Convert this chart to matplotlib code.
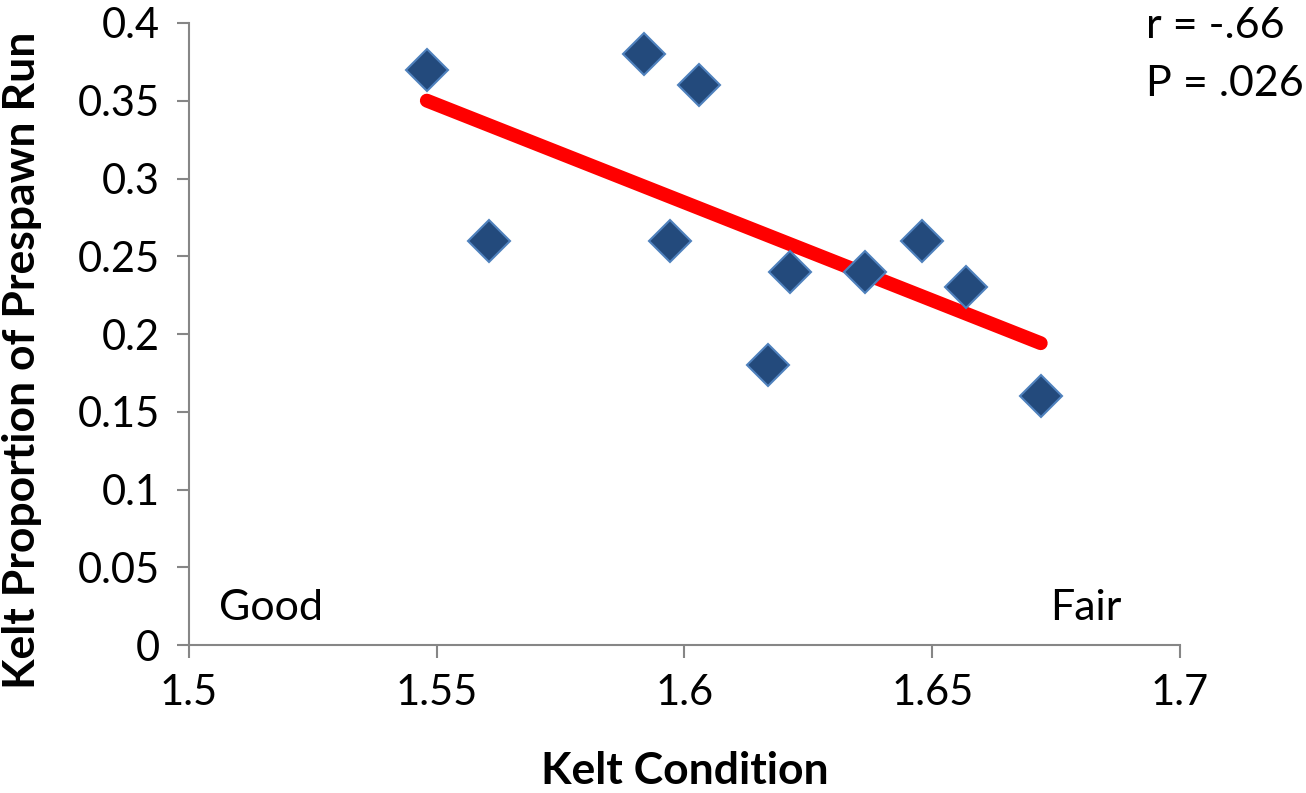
#!/usr/bin/env python3
"""Kelt condition vs. kelt proportion of prespawn run, with linear fit."""

import matplotlib
matplotlib.use("Agg")
import matplotlib.pyplot as plt
import numpy as np

# values
kelt_condition = [1.548, 1.5606, 1.5919, 1.603, 1.597, 1.6168, 1.6212, 1.6364, 1.6479, 1.6568, 1.6719]
prespawn_prop = [0.37, 0.26, 0.38, 0.36, 0.26, 0.18, 0.24, 0.24, 0.26, 0.23, 0.16]
x_ticks = [1.5, 1.55, 1.6, 1.65, 1.7]
x_tick_labels = ["1.5", "1.55", "1.6", "1.65", "1.7"]
y_ticks = [0, 0.05, 0.1, 0.15, 0.2, 0.25, 0.3, 0.35, 0.4]
y_tick_labels = ["0", "0.05", "0.1", "0.15", "0.2", "0.25", "0.3", "0.35", "0.4"]
stats_text = ["r = -.66", "P = .026"]

plt.rcParams["font.family"] = ["Lato", "DejaVu Sans"]

fig = plt.figure(figsize=(13.06, 7.93), dpi=100)
ax = fig.add_axes([0.1447, 0.1866, 0.7588, 0.7844])

x = np.array(kelt_condition)
y = np.array(prespawn_prop)

ax.plot(x, y, linestyle="none", marker="D", markersize=21,
        markerfacecolor="#234a7c", markeredgecolor="#4f81bd", markeredgewidth=1.5, zorder=3)

slope, intercept = np.polyfit(x, y, 1)
xf = np.array([x.min(), x.max()])
ax.plot(xf, slope * xf + intercept, color="#ff0000", linewidth=10,
        solid_capstyle="round", zorder=2)

ax.set_xlim(1.5, 1.7)
ax.set_ylim(0, 0.4)
ax.set_xticks(x_ticks)
ax.set_xticklabels(x_tick_labels)
ax.set_yticks(y_ticks)
ax.set_yticklabels(y_tick_labels)
ax.tick_params(axis="both", direction="out", length=9, width=1.5, color="#868686",
               labelsize=30, pad=12)

for side in ["top", "right"]:
    ax.spines[side].set_visible(False)
for side in ["left", "bottom"]:
    ax.spines[side].set_color("#868686")
    ax.spines[side].set_linewidth(1.5)

ax.set_xlabel("Kelt Condition", fontsize=32, fontweight="bold", labelpad=28)
ax.set_ylabel("Kelt Proportion of Prespawn Run", fontsize=32, fontweight="bold")
ax.yaxis.set_label_coords(-0.148, 0.458)

ax.text(0.03, 0.06, "Good", transform=ax.transAxes, fontsize=31, va="center", ha="left")
ax.text(0.941, 0.06, "Fair", transform=ax.transAxes, fontsize=31, va="center", ha="right")

ax.text(0.966, 0.995, stats_text[0], transform=ax.transAxes, fontsize=31,
        va="center", ha="left", clip_on=False)
ax.text(0.966, 0.902, stats_text[1], transform=ax.transAxes, fontsize=31,
        va="center", ha="left", clip_on=False)

fig.savefig("out.png", dpi=100)
